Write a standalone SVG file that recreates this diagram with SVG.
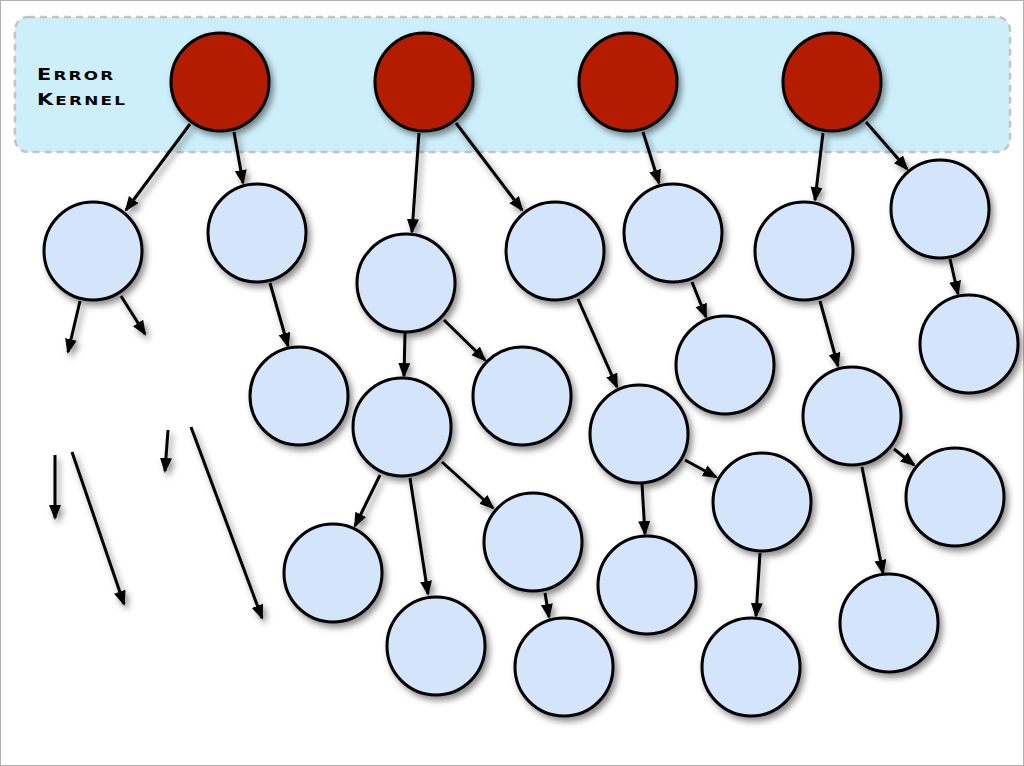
<svg xmlns="http://www.w3.org/2000/svg" width="1024" height="766" viewBox="0 0 1024 766">
<defs>
<style>
.red{fill:#b41c00;stroke:#000;stroke-width:3}
.blue{fill:#d4e4fb;stroke:#000;stroke-width:3}
.c line{stroke:#000;stroke-width:3;marker-end:url(#ah)}
.lbl{font-family:"DejaVu Sans","Liberation Sans",sans-serif;font-size:16px;font-weight:bold;letter-spacing:1.7px;fill:#000}
.sc{font-size:18px;font-variant:small-caps}
</style>
<filter id="sh" x="-30%" y="-30%" width="160%" height="160%">
<feDropShadow dx="3" dy="4" stdDeviation="3" flood-color="#000" flood-opacity="0.45"/>
</filter>
<marker id="ah" markerUnits="userSpaceOnUse" markerWidth="16" markerHeight="13" refX="13" refY="6" orient="auto">
<path d="M0,0 L15,6 L0,12 z" fill="#000"/>
</marker>
</defs>
<rect x="0.5" y="0.5" width="1023" height="765" fill="#fff" stroke="#b0b0b0" stroke-width="1"/>
<g id="kernel-band">
<rect x="15" y="17" width="995" height="135" rx="13" fill="#cdeffb" stroke="#c8c3c3" stroke-width="2.5" stroke-dasharray="7 5"/>
<text class="lbl" transform="translate(37,80) scale(1.3,1)">E<tspan class="sc">rror</tspan></text>
<text class="lbl" transform="translate(37,105) scale(1.3,1)">K<tspan class="sc">ernel</tspan></text>
</g>
<g id="connectors" class="c" filter="url(#sh)">
<line x1="190" y1="124" x2="126" y2="210"/>
<line x1="234" y1="132" x2="243" y2="183"/>
<line x1="419" y1="133" x2="412" y2="232"/>
<line x1="456" y1="123" x2="522" y2="210"/>
<line x1="643" y1="132" x2="659" y2="183"/>
<line x1="823" y1="133" x2="815" y2="200"/>
<line x1="866" y1="122" x2="907" y2="169"/>
<line x1="80" y1="301" x2="68" y2="352"/>
<line x1="121" y1="296" x2="145" y2="334"/>
<line x1="270" y1="283" x2="288" y2="346"/>
<line x1="405" y1="333" x2="404" y2="376"/>
<line x1="444" y1="320" x2="485" y2="360"/>
<line x1="578" y1="299" x2="617" y2="387"/>
<line x1="692" y1="282" x2="706" y2="317"/>
<line x1="950" y1="259" x2="958" y2="294"/>
<line x1="820" y1="301" x2="838" y2="366"/>
<line x1="894" y1="449" x2="914" y2="465"/>
<line x1="862" y1="467" x2="883" y2="573"/>
<line x1="685" y1="460" x2="716" y2="477"/>
<line x1="642" y1="484" x2="645" y2="534"/>
<line x1="760" y1="553" x2="756" y2="616"/>
<line x1="380" y1="475" x2="355" y2="526"/>
<line x1="410" y1="478" x2="428" y2="594"/>
<line x1="442" y1="462" x2="493" y2="508"/>
<line x1="545" y1="593" x2="549" y2="617"/>
<line x1="55" y1="455" x2="55" y2="518"/>
<line x1="72" y1="452" x2="124" y2="604"/>
<line x1="168" y1="430" x2="165" y2="471"/>
<line x1="191" y1="427" x2="262" y2="618"/>
</g>
<g filter="url(#sh)">
<g id="k1"><circle class="red" cx="220" cy="82" r="49"/></g>
<g id="k2"><circle class="red" cx="424" cy="82" r="49"/></g>
<g id="k3"><circle class="red" cx="628" cy="82" r="49"/></g>
<g id="k4"><circle class="red" cx="832" cy="82" r="49"/></g>
<g id="a"><circle class="blue" cx="93" cy="251" r="49"/></g>
<g id="b"><circle class="blue" cx="257" cy="233" r="49"/></g>
<g id="c"><circle class="blue" cx="406" cy="283" r="49"/></g>
<g id="d"><circle class="blue" cx="555" cy="251" r="49"/></g>
<g id="e"><circle class="blue" cx="673" cy="233" r="49"/></g>
<g id="f"><circle class="blue" cx="804" cy="251" r="49"/></g>
<g id="g"><circle class="blue" cx="940" cy="209" r="49"/></g>
<g id="h"><circle class="blue" cx="299" cy="396" r="49"/></g>
<g id="i"><circle class="blue" cx="522" cy="396" r="49"/></g>
<g id="j"><circle class="blue" cx="402" cy="427" r="49"/></g>
<g id="k"><circle class="blue" cx="725" cy="365" r="49"/></g>
<g id="l"><circle class="blue" cx="969" cy="344" r="49"/></g>
<g id="m"><circle class="blue" cx="639" cy="434" r="49"/></g>
<g id="n"><circle class="blue" cx="852" cy="416" r="49"/></g>
<g id="o"><circle class="blue" cx="955" cy="497" r="49"/></g>
<g id="p"><circle class="blue" cx="762" cy="502" r="49"/></g>
<g id="q"><circle class="blue" cx="333" cy="573" r="49"/></g>
<g id="r"><circle class="blue" cx="533" cy="542" r="49"/></g>
<g id="s"><circle class="blue" cx="647" cy="585" r="49"/></g>
<g id="t"><circle class="blue" cx="436" cy="646" r="49"/></g>
<g id="u"><circle class="blue" cx="564" cy="667" r="49"/></g>
<g id="v"><circle class="blue" cx="751" cy="667" r="49"/></g>
<g id="w"><circle class="blue" cx="889" cy="623" r="49"/></g>
</g>
</svg>
